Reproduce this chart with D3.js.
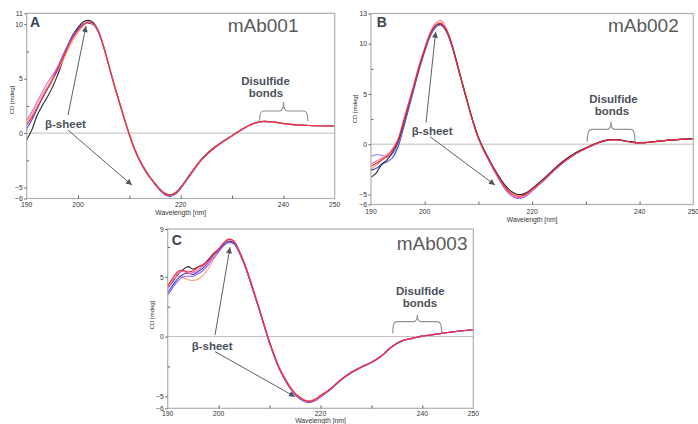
<!DOCTYPE html>
<html><head><meta charset="utf-8">
<script src="https://cdn.jsdelivr.net/npm/d3@7"></script>
<style>
body{margin:0;background:#fff}
svg{display:block}
text{font-family:"Liberation Sans",Arial,sans-serif}
</style>
</head><body>
<svg id="chart" width="698" height="424"></svg>
<script>
// ---------- data ----------
const WAVELENGTHS = [190,191,192,193,194,195,196,197,198,199,200,201,202,203,204,205,206,207,208,209,210,211,212,213,214,215,216,217,218,219,220,222,224,226,228,230,232,234,236,238,240,242,245,250];
const X_TICK_LABELS = [190,200,220,240,250];
const X_TICK_MARKS = [200,210,220,230,240];

const A_Y_TICKS = [-6,-5,0,5,10,11];
const B_Y_TICKS = [-6,-5,0,5,10,13];
const C_Y_TICKS = [-6,-5,0,5,9];

// Panel A (mAb001)
const A_BLACK   = [-0.6,0.3,1.6,2.5,3.3,4.2,5.3,6.6,7.9,9.0,9.7,10.2,10.35,10.15,9.35,7.95,6.25,4.55,2.95,1.4,-0.1,-1.4,-2.45,-3.3,-4.0,-4.6,-5.15,-5.55,-5.65,-5.45,-4.95,-3.65,-2.4,-1.5,-0.82,-0.22,0.38,0.87,1.08,1.03,0.89,0.78,0.7,0.66];
const A_BLUE    = [0.4,1.2,2.2,3.2,4.1,5.0,6.0,7.1,8.1,9.0,9.6,10.0,10.1,9.95,9.2,7.85,6.15,4.45,2.85,1.3,-0.2,-1.5,-2.55,-3.4,-4.1,-4.72,-5.28,-5.68,-5.8,-5.6,-5.1,-3.78,-2.5,-1.6,-0.88,-0.27,0.33,0.83,1.05,1.0,0.87,0.77,0.7,0.66];
const A_MAGENTA = [1.2,1.95,2.85,3.75,4.6,5.3,6.1,7.0,7.95,8.8,9.45,9.95,10.2,10.05,9.3,7.9,6.2,4.5,2.9,1.35,-0.15,-1.45,-2.5,-3.35,-4.05,-4.67,-5.22,-5.62,-5.72,-5.52,-5.02,-3.72,-2.47,-1.56,-0.86,-0.26,0.34,0.85,1.07,1.02,0.88,0.78,0.7,0.66];
const A_ORANGE  = [0.95,1.7,2.6,3.5,4.25,5.0,5.7,6.6,7.6,8.5,9.25,9.85,10.15,10.0,9.28,7.88,6.2,4.5,2.9,1.35,-0.15,-1.45,-2.5,-3.35,-4.05,-4.65,-5.2,-5.6,-5.7,-5.5,-5.0,-3.7,-2.45,-1.55,-0.85,-0.25,0.35,0.85,1.07,1.02,0.88,0.78,0.7,0.66];
const A_RED     = [0.75,1.45,2.3,3.15,4.0,4.85,5.8,6.85,7.85,8.75,9.45,9.95,10.2,10.05,9.3,7.9,6.2,4.5,2.9,1.35,-0.15,-1.45,-2.5,-3.35,-4.05,-4.65,-5.2,-5.6,-5.7,-5.5,-5.0,-3.7,-2.45,-1.55,-0.85,-0.25,0.35,0.85,1.07,1.02,0.88,0.78,0.7,0.66];

// Panel B (mAb002)
const B_BLACK   = [-3.3,-2.85,-2.0,-1.55,-0.8,0.2,1.95,3.85,5.75,7.7,9.4,10.9,11.8,11.95,11.35,10.0,8.1,6.1,4.15,2.3,0.7,-0.5,-1.5,-2.5,-3.35,-4.1,-4.65,-4.95,-5.0,-4.8,-4.4,-3.5,-2.5,-1.6,-0.88,-0.35,0.12,0.43,0.44,0.27,0.14,0.21,0.38,0.55];
const B_BLUE    = [-2.6,-2.4,-2.0,-1.75,-1.35,-0.3,1.5,3.5,5.5,7.5,9.2,10.7,11.6,11.85,11.2,9.85,7.95,5.95,4.0,2.15,0.55,-0.65,-1.7,-2.7,-3.65,-4.5,-5.05,-5.35,-5.35,-5.1,-4.65,-3.7,-2.68,-1.76,-1.0,-0.44,0.05,0.38,0.41,0.24,0.12,0.2,0.38,0.55];
const B_LAVENDER= [-1.2,-1.05,-1.1,-1.3,-1.0,0.0,1.8,3.7,5.6,7.6,9.3,10.8,11.75,11.95,11.3,9.9,8.0,6.0,4.05,2.2,0.6,-0.62,-1.65,-2.68,-3.6,-4.45,-5.0,-5.3,-5.32,-5.05,-4.6,-3.65,-2.63,-1.72,-0.97,-0.42,0.07,0.39,0.41,0.24,0.12,0.2,0.38,0.55];
const B_PINK    = [-1.95,-1.7,-1.4,-1.05,-0.45,0.5,2.3,4.15,6.0,7.95,9.6,11.1,12.05,12.3,11.55,10.1,8.15,6.1,4.1,2.2,0.6,-0.62,-1.65,-2.7,-3.62,-4.45,-5.0,-5.3,-5.3,-5.05,-4.6,-3.65,-2.63,-1.72,-0.97,-0.42,0.07,0.39,0.41,0.24,0.12,0.2,0.38,0.55];
const B_ORANGE  = [-2.5,-2.1,-1.6,-1.1,-0.5,0.45,2.2,4.05,5.9,7.85,9.5,11.0,11.9,12.1,11.4,10.0,8.05,6.05,4.07,2.22,0.62,-0.58,-1.58,-2.57,-3.45,-4.22,-4.75,-5.05,-5.07,-4.85,-4.45,-3.56,-2.57,-1.68,-0.93,-0.39,0.09,0.41,0.42,0.25,0.13,0.2,0.38,0.55];
const B_RED     = [-2.2,-1.9,-1.55,-1.2,-0.6,0.35,2.1,3.95,5.8,7.75,9.4,10.9,11.8,12.0,11.3,9.9,8.0,6.0,4.05,2.2,0.6,-0.6,-1.6,-2.6,-3.5,-4.3,-4.85,-5.15,-5.15,-4.9,-4.5,-3.6,-2.6,-1.7,-0.95,-0.4,0.08,0.4,0.42,0.25,0.13,0.2,0.38,0.55];

// Panel C (mAb003)
const C_BLACK   = [4.05,4.6,5.2,5.6,5.85,5.65,5.85,6.0,6.45,6.95,7.3,7.75,7.95,7.85,7.1,6.1,4.9,3.6,2.25,0.85,-0.5,-1.7,-2.75,-3.55,-4.25,-4.8,-5.15,-5.38,-5.42,-5.27,-4.97,-4.36,-3.6,-3.0,-2.55,-2.15,-1.6,-0.85,-0.35,-0.15,0.04,0.15,0.34,0.57];
const C_BLUE    = [3.65,4.3,4.85,5.2,5.3,5.2,5.45,5.75,6.2,6.8,7.2,7.7,7.95,7.8,7.1,6.1,4.9,3.55,2.2,0.8,-0.55,-1.75,-2.8,-3.6,-4.3,-4.85,-5.22,-5.45,-5.5,-5.35,-5.05,-4.42,-3.65,-3.04,-2.58,-2.17,-1.62,-0.86,-0.36,-0.15,0.04,0.15,0.34,0.57];
const C_PURPLE  = [3.45,4.1,4.65,5.0,5.05,5.05,5.25,5.55,6.0,6.6,7.1,7.6,7.85,7.75,7.05,6.05,4.85,3.5,2.2,0.8,-0.55,-1.75,-2.8,-3.6,-4.3,-4.85,-5.2,-5.43,-5.47,-5.32,-5.02,-4.4,-3.63,-3.02,-2.57,-2.16,-1.61,-0.86,-0.36,-0.15,0.04,0.15,0.34,0.57];
const C_PINK    = [4.0,4.7,5.3,5.45,5.3,5.35,5.6,5.9,6.25,6.85,7.3,7.8,8.1,7.95,7.15,6.15,4.95,3.6,2.25,0.85,-0.5,-1.7,-2.75,-3.55,-4.25,-4.8,-5.17,-5.4,-5.45,-5.3,-5.0,-4.38,-3.62,-3.01,-2.56,-2.15,-1.6,-0.85,-0.35,-0.15,0.04,0.15,0.34,0.57];
const C_ORANGE  = [4.35,4.8,5.05,4.95,4.75,4.7,4.8,5.15,5.7,6.45,7.05,7.7,8.05,7.95,7.25,6.25,5.05,3.7,2.35,0.95,-0.4,-1.6,-2.65,-3.45,-4.15,-4.7,-5.05,-5.3,-5.35,-5.2,-4.9,-4.33,-3.58,-2.98,-2.54,-2.14,-1.59,-0.84,-0.34,-0.15,0.04,0.15,0.34,0.57];
const C_RED     = [4.2,4.9,5.45,5.55,5.4,5.5,5.8,6.05,6.35,6.9,7.35,7.85,8.15,8.0,7.2,6.2,5.0,3.65,2.3,0.9,-0.45,-1.65,-2.7,-3.5,-4.2,-4.75,-5.1,-5.35,-5.4,-5.25,-4.95,-4.35,-3.6,-3.0,-2.55,-2.15,-1.6,-0.85,-0.35,-0.15,0.04,0.15,0.34,0.57];

const COLORS = {black:'#262626', blue:'#3344e6', lavender:'#8f82f2', magenta:'#e06ae8', pink:'#ff6ab8', purple:'#a066f2', orange:'#ffa07a', red:'#ee2a3a'};

// ---------- layout ----------
const panels = [
  {letter:'A', name:'mAb001', box:{l:26.7,t:13.3,r:334.7,b:198.5}, yDomain:[-6,11], yTicks:A_Y_TICKS, yMinor:[-2.5,2.5,7.5],
   xLabelDy:8.5, axisTitleDy:16, cd:{x:12, y:100},
   series:[['black',A_BLACK],['blue',A_BLUE],['magenta',A_MAGENTA],['orange',A_ORANGE],['red',A_RED]],
   letterAt:[190.64,9.72], nameAt:[229.16,9.31], betaAt:[193.57,0.50],
   arrows:[[198.05,1.66,201.55,9.83],[198.05,0.28,210.5,-4.77]],
   disAt:[236.52,4.42], bondsAt:[236.62,3.34], brace:{x0:235.35,xm:240.03,x1:244.77,yb:1.11,yh:2.03,yt:2.86}},
  {letter:'B', name:'mAb002', box:{l:371,t:13.5,r:693.3,b:204.5}, yDomain:[-6,13], yTicks:B_Y_TICKS, yMinor:[-2.5,2.5,7.5],
   xLabelDy:9, axisTitleDy:17, cd:{x:355, y:109},
   series:[['blue',B_BLUE],['lavender',B_LAVENDER],['pink',B_PINK],['orange',B_ORANGE],['black',B_BLACK],['red',B_RED]],
   letterAt:[191.06,11.69], nameAt:[234.12,11.19], betaAt:[197.58,0.92],
   arrows:[[200.24,2.14,202.04,11.19],[200.98,0.75,213.08,-4.06]],
   disAt:[235.14,4.07], bondsAt:[234.86,2.91], brace:{x0:230.26,xm:234.68,x1:239.14,yb:0.25,yh:1.48,yt:2.24}},
  {letter:'C', name:'mAb003', box:{l:167.7,t:229,r:473.3,b:408.3}, yDomain:[-6,9], yTicks:C_Y_TICKS, yMinor:[-2.5,2.5,7.5],
   xLabelDy:7.5, axisTitleDy:15, cd:{x:151.7, y:315},
   series:[['black',C_BLACK],['orange',C_ORANGE],['purple',C_PURPLE],['blue',C_BLUE],['pink',C_PINK],['red',C_RED]],
   letterAt:[190.79,7.67], nameAt:[234.96,7.25], betaAt:[194.71,-1.12],
   arrows:[[199.29,0.13,202.23,7.47],[199.29,-1.26,214.99,-5.03]],
   disAt:[239.6,3.48], bondsAt:[239.54,2.45], brace:{x0:234.18,xm:239.01,x1:243.8,yb:0.28,yh:1.25,yt:1.81}}
];

const svg = d3.select('#chart');
const defs = svg.append('defs');
defs.append('marker').attr('id','ah').attr('viewBox','0 0 10 10').attr('refX',10).attr('refY',5)
  .attr('markerWidth',7).attr('markerHeight',6).attr('markerUnits','userSpaceOnUse').attr('orient','auto')
  .append('path').attr('d','M0,0 L10,5 L0,10 Z').attr('fill','#4e545e');

const FRAME = '#b0b0b0', TICKC = '#666', LABELC = '#333', NOTEC = '#4b515c';

panels.forEach(p => {
  const x = d3.scaleLinear().domain([190,250]).range([p.box.l, p.box.r]);
  const y = d3.scaleLinear().domain(p.yDomain).range([p.box.b, p.box.t]);
  const g = svg.append('g');

  // zero line
  g.append('line').attr('x1',p.box.l).attr('x2',p.box.r).attr('y1',y(0)).attr('y2',y(0))
    .attr('stroke','#bdbdbd').attr('stroke-width',1);

  // curves
  const line = d3.line().x((d,i)=>x(WAVELENGTHS[i])).y(d=>y(d)).curve(d3.curveCatmullRom.alpha(0.5));
  p.series.forEach(([c,vals]) => {
    g.append('path').attr('d', line(vals)).attr('fill','none').attr('stroke',COLORS[c])
      .attr('stroke-width',1.1).attr('stroke-linejoin','round');
  });

  // frame
  g.append('rect').attr('x',p.box.l).attr('y',p.box.t).attr('width',p.box.r-p.box.l).attr('height',p.box.b-p.box.t)
    .attr('fill','none').attr('stroke',FRAME).attr('stroke-width',1.2);

  // x axis ticks (inside) and labels
  const xa = d3.axisBottom(x).tickValues(X_TICK_MARKS).tickSize(-3).tickFormat('');
  const xg = g.append('g').attr('transform',`translate(0,${p.box.b})`).call(xa);
  xg.select('.domain').remove();
  xg.selectAll('line').attr('stroke',TICKC);
  g.selectAll(null).data(X_TICK_LABELS).enter().append('text')
    .attr('x',d=>x(d)).attr('y',p.box.b+p.xLabelDy).attr('text-anchor','middle')
    .attr('font-size',6.8).attr('fill',LABELC).text(d=>d);
  g.append('text').attr('x',x(220)).attr('y',p.box.b+p.axisTitleDy).attr('text-anchor','middle')
    .attr('font-size',6.8).attr('fill',LABELC).text('Wavelength [nm]');

  // y axis ticks
  const ya = d3.axisLeft(y).tickValues(p.yTicks).tickSize(2.5).tickPadding(1.5).tickFormat(d3.format('d'));
  const yg = g.append('g').attr('transform',`translate(${p.box.l},0)`).call(ya);
  yg.select('.domain').remove();
  yg.selectAll('line').attr('stroke',TICKC);
  yg.selectAll('text').attr('font-size',6.8).attr('fill',LABELC).attr('font-family','"Liberation Sans",Arial,sans-serif');
  const ym = d3.axisLeft(y).tickValues(p.yMinor.filter(v=>v>p.yDomain[0]&&v<p.yDomain[1])).tickSize(-2.5).tickFormat('');
  const ymg = g.append('g').attr('transform',`translate(${p.box.l},0)`).call(ym);
  ymg.select('.domain').remove();
  ymg.selectAll('line').attr('stroke',TICKC);

  g.append('text').attr('transform',`translate(${p.cd.x},${p.cd.y}) rotate(-90)`).attr('text-anchor','middle')
    .attr('dy','0.35em').attr('font-size',6).attr('fill',LABELC).text('CD [mdeg]');

  // panel letter and name
  g.append('text').attr('x',x(p.letterAt[0])).attr('y',y(p.letterAt[1])).attr('font-size',14).attr('font-weight','bold')
    .attr('fill','#3d4350').text(p.letter);
  g.append('text').attr('x',x(p.nameAt[0])).attr('y',y(p.nameAt[1])).attr('font-size',19)
    .attr('fill','#5a5a5a').text(p.name);

  // annotations
  g.append('text').attr('x',x(p.betaAt[0])).attr('y',y(p.betaAt[1])).attr('font-size',11.5).attr('font-weight','bold')
    .attr('fill',NOTEC).text('β-sheet');
  p.arrows.forEach(a => {
    g.append('line').attr('x1',x(a[0])).attr('y1',y(a[1])).attr('x2',x(a[2])).attr('y2',y(a[3]))
      .attr('stroke','#5a606a').attr('stroke-width',1).attr('marker-end','url(#ah)');
  });
  g.append('text').attr('x',x(p.disAt[0])).attr('y',y(p.disAt[1])).attr('text-anchor','middle').attr('font-size',11.5)
    .attr('font-weight','bold').attr('fill',NOTEC).text('Disulfide');
  g.append('text').attr('x',x(p.bondsAt[0])).attr('y',y(p.bondsAt[1])).attr('text-anchor','middle').attr('font-size',11.5)
    .attr('font-weight','bold').attr('fill',NOTEC).text('bonds');
  const b = p.brace, r = 4;
  const X0=x(b.x0), XM=x(b.xm), X1=x(b.x1), YB=y(b.yb), YH=y(b.yh), YT=y(b.yt);
  g.append('path').attr('d',`M${X0},${YB} Q${X0},${YH} ${X0+r},${YH} L${XM-r},${YH} Q${XM},${YH} ${XM},${YT} Q${XM},${YH} ${XM+r},${YH} L${X1-r},${YH} Q${X1},${YH} ${X1},${YB}`)
    .attr('fill','none').attr('stroke','#8e939b').attr('stroke-width',1.2);
});
</script>
</body></html>
